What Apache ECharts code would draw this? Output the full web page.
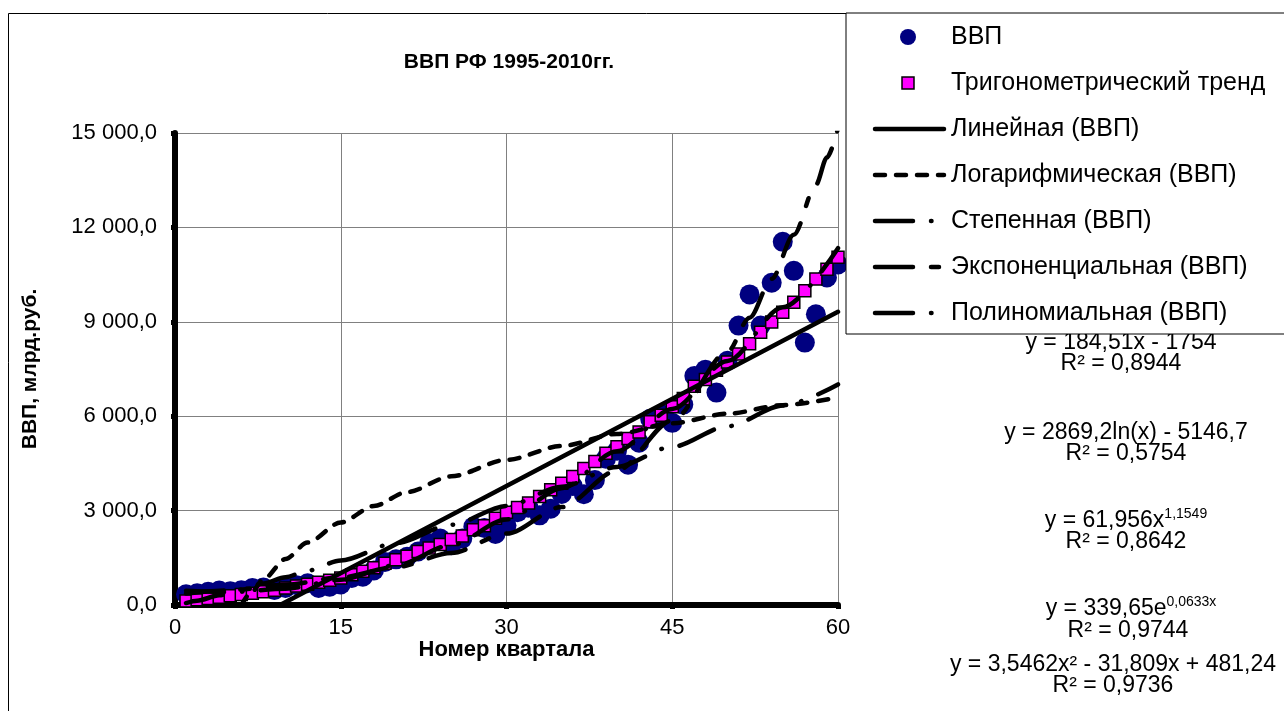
<!DOCTYPE html>
<html>
<head>
<meta charset="utf-8">
<title>ВВП РФ 1995-2010гг.</title>
<script src="https://cdn.jsdelivr.net/npm/echarts@6/dist/echarts.min.js"></script>
<style>
  html, body { margin: 0; padding: 0; background: #fff; }
  #chart { width: 1284px; height: 711px; }
</style>
</head>
<body>
<div id="chart"></div>
<script>
// номер квартала (1995 Q1 = 1)
const quarters = [
  1, 2, 3, 4, 5, 6, 7, 8, 9, 10, 11, 12, 13, 14, 15, 16, 17, 18, 19, 20,
  21, 22, 23, 24, 25, 26, 27, 28, 29, 30, 31, 32, 33, 34, 35, 36, 37, 38, 39, 40,
  41, 42, 43, 44, 45, 46, 47, 48, 49, 50, 51, 52, 53, 54, 55, 56, 57, 58, 59, 60
]
// ВВП, млрд.руб.
const gdp = [
  340, 370, 420, 460, 440, 470, 540, 560, 480, 540, 630, 690, 540, 580, 650, 860,
  900, 1100, 1370, 1450, 1530, 1700, 1970, 2110, 1900, 2110, 2490, 2450,
  2260, 2530, 2950, 3090, 2850, 3060, 3530, 3780, 3520, 3970, 4650, 4900,
  4460, 5160, 5920, 6070, 5790, 6370, 7280, 7480, 6750, 7760, 8880, 9870,
  8880, 10240, 11540, 10620, 8340, 9240, 10410, 10820
]
// тригонометрический тренд
const trig = [
  130, 170, 210, 250, 290, 330, 370, 420, 470, 540, 600, 660, 720, 790, 860, 960,
  1070, 1180, 1330, 1440, 1550, 1700, 1810, 1920, 2080, 2190, 2390, 2520,
  2760, 2950, 3100, 3240, 3450, 3660, 3870, 4080, 4340, 4560, 4820, 5030,
  5290, 5500, 5820, 6030, 6300, 6560, 6950, 7170, 7460, 7720, 7980, 8300,
  8670, 8990, 9300, 9620, 9990, 10360, 10670, 11050
]

// линии тренда, значения
const linX = [1, 60]
const linY = [-1570, 9317]
const logX = [6, 7, 8, 10, 12, 15, 18, 21, 25, 30, 35, 40, 45, 50, 55, 60]
const logY = [-6, 437, 820, 1460, 1983, 2623, 3147, 3589, 4089, 4612, 5054, 5438, 5776, 6078, 6351, 6601]
const powX = [1, 2, 4, 6, 8, 10, 12, 15, 20, 25, 30, 35, 40, 45, 50, 55, 60]
const powY = [62, 138, 307, 491, 684, 885, 1093, 1414, 1971, 2551, 3148, 3760, 4388, 5028, 5679, 6339, 7010]
const expX = [1, 5, 10, 15, 20, 25, 30, 35, 40, 45, 50, 52, 54, 56, 58, 59, 60]
const expY = [362, 466, 640, 878, 1205, 1653, 2269, 3113, 4272, 5863, 8046, 9132, 10365, 11764, 13351, 14223, 15152]
const polX = [1, 5, 10, 15, 20, 25, 30, 35, 40, 45, 50, 55, 60]
const polY = [453, 411, 518, 802, 1264, 1902, 2719, 3712, 4883, 6231, 7756, 9459, 11339]

const seriesNames = [
  'ВВП',
  'Тригонометрический тренд',
  'Линейная (ВВП)',
  'Логарифмическая (ВВП)',
  'Степенная (ВВП)',
  'Экспоненциальная (ВВП)',
  'Полиномиальная (ВВП)'
]

const FONT = '"Liberation Sans", Arial, sans-serif'
const DASH_LOG = [10, 11]
const DASH_POW = [38, 18, 0.5, 18]
const DASH_EXP = [38, 18, 8, 18]

function zip(xs, ys) {
  return xs.map((x, i) => [x, ys[i]])
}

function fmt(v) {
  const parts = v.toFixed(1).split('.')
  return parts[0].replace(/\B(?=(\d{3})+(?!\d))/g, ' ') + ',' + parts[1]
}

function trendLine(name, xs, ys, dash) {
  return {
    name: name,
    type: 'line',
    data: zip(xs, ys),
    symbol: 'none',
    smooth: 0.3,
    smoothMonotone: 'x',
    clip: true,
    lineStyle: { color: '#000', width: 4.5, type: dash, cap: 'round' },
    z: 5,
  }
}

// легенда в рамке справа
const legendRows = [37, 83, 129, 175, 221, 267, 313]
function legendGraphics() {
  const els = [{
    type: 'rect',
    shape: { x: 846, y: 13, width: 470, height: 321 },
    style: { fill: '#fff', stroke: '#000', lineWidth: 1 },
    z: 20,
  }]
  els.push({
    type: 'circle', shape: { cx: 908, cy: legendRows[0], r: 8 },
    style: { fill: '#000080' }, z: 21,
  })
  els.push({
    type: 'rect', shape: { x: 902, y: legendRows[1] - 6, width: 12, height: 12 },
    style: { fill: '#FF00FF', stroke: '#000', lineWidth: 1.5 }, z: 21,
  })
  const dashes = ['solid', DASH_LOG, DASH_POW, DASH_EXP, DASH_POW]
  dashes.forEach((d, i) => {
    els.push({
      type: 'line',
      shape: { x1: 875, y1: legendRows[i + 2], x2: 944, y2: legendRows[i + 2] },
      style: {
        stroke: '#000', lineWidth: 4.5, lineCap: 'round',
        lineDash: d === 'solid' ? null : d,
      },
      z: 21,
    })
  })
  seriesNames.forEach((name, i) => {
    els.push({
      type: 'text', x: 951, y: legendRows[i],
      style: {
        text: name, font: '25px ' + FONT, fill: '#000',
        textAlign: 'left', textVerticalAlign: 'middle',
      },
      z: 21,
    })
  })
  return els
}

// подписи уравнений трендов
const eqRich = {
  n: { fontSize: 23, fontFamily: FONT, fill: '#000', lineHeight: 28 },
  s: { fontSize: 14, fontFamily: FONT, fill: '#000', verticalAlign: 'top', lineHeight: 28 },
}
const equations = [
  ['{n|y = 184,51x - 1754}', 1121, 343],
  ['{n|R² = 0,8944}', 1121, 364],
  ['{n|y = 2869,2ln(x) - 5146,7}', 1126, 433],
  ['{n|R² = 0,5754}', 1126, 454],
  ['{n|y = 61,956x}{s|1,1549}', 1126, 521],
  ['{n|R² = 0,8642}', 1126, 542],
  ['{n|y = 339,65e}{s|0,0633x}', 1131, 609],
  ['{n|R² = 0,9744}', 1128, 631],
  ['{n|y = 3,5462x² - 31,809x + 481,24}', 1113, 665],
  ['{n|R² = 0,9736}', 1113, 686],
]
function equationGraphics() {
  return equations.map(e => ({
    type: 'text', x: e[1], y: e[2], z: 10,
    style: {
      text: e[0], rich: eqRich, font: '23px ' + FONT, fill: '#000',
      textAlign: 'center', textVerticalAlign: 'middle',
    },
  }))
}

const chart = echarts.init(document.getElementById('chart'), null, { renderer: 'canvas' })
chart.setOption({
  animation: false,
  backgroundColor: '#fff',
  textStyle: { fontFamily: FONT },
  title: {
    text: 'ВВП РФ 1995-2010гг.',
    left: 504,
    top: 47,
    textAlign: 'center',
    textStyle: { fontSize: 21, fontWeight: 'bold', color: '#000', fontFamily: FONT },
  },
  grid: { left: 175, right: 446, top: 133, bottom: 106 },
  xAxis: {
    type: 'value',
    min: 0,
    max: 60,
    interval: 15,
    name: 'Номер квартала',
    nameLocation: 'middle',
    nameGap: 34,
    nameMoveOverlap: false,
    nameTextStyle: { fontSize: 22, fontWeight: 'bold', color: '#000', fontFamily: FONT },
    axisLine: { lineStyle: { color: '#000', width: 6 } },
    axisTick: { length: 4, lineStyle: { color: '#000', width: 5 } },
    axisLabel: { fontSize: 22, color: '#000', margin: 12, fontFamily: FONT },
    splitLine: { show: true, lineStyle: { color: '#808080', width: 1 } },
  },
  yAxis: {
    type: 'value',
    min: 0,
    max: 15000,
    interval: 3000,
    name: 'ВВП, млрд.руб.',
    nameLocation: 'middle',
    nameGap: 134,
    nameMoveOverlap: false,
    nameTextStyle: { fontSize: 21, fontWeight: 'bold', color: '#000', fontFamily: FONT },
    axisLine: { show: true, lineStyle: { color: '#000', width: 6 } },
    axisTick: { show: true, length: 4, lineStyle: { color: '#000', width: 5 } },
    axisLabel: { fontSize: 22, color: '#000', margin: 18, fontFamily: FONT, formatter: fmt },
    splitLine: { show: true, lineStyle: { color: '#808080', width: 1 } },
  },
  series: [
    {
      name: seriesNames[0],
      type: 'scatter',
      data: zip(quarters, gdp),
      symbol: 'circle',
      symbolSize: 20,
      itemStyle: { color: '#000080', opacity: 1 },
      z: 2,
    },
    {
      name: seriesNames[1],
      type: 'scatter',
      data: zip(quarters, trig),
      symbol: 'rect',
      symbolSize: 12,
      itemStyle: { color: '#FF00FF', borderColor: '#000', borderWidth: 1.5, opacity: 1 },
      z: 3,
    },
    trendLine(seriesNames[2], linX, linY, 'solid'),
    trendLine(seriesNames[3], logX, logY, DASH_LOG),
    trendLine(seriesNames[4], powX, powY, DASH_POW),
    trendLine(seriesNames[5], expX, expY, DASH_EXP),
    trendLine(seriesNames[6], polX, polY, DASH_POW),
  ],
  graphic: [
    {
      type: 'rect',
      shape: { x: 8.5, y: 13.5, width: 1400, height: 800 },
      style: { fill: 'none', stroke: '#000', lineWidth: 1 },
      z: 1,
      silent: true,
    },
    ...equationGraphics(),
    ...legendGraphics(),
  ],
})
</script>
</body>
</html>
